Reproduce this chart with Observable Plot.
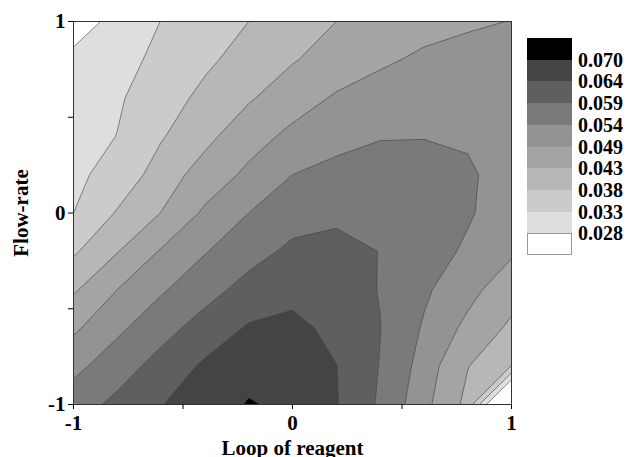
<!DOCTYPE html>
<html><head><meta charset="utf-8">
<script src="https://cdn.jsdelivr.net/npm/d3@7"></script>
<script src="https://cdn.jsdelivr.net/npm/@observablehq/plot@0.6"></script>
<style>
body{margin:0;background:#fff;}
#wrap{position:relative;width:629px;height:457px;overflow:hidden;background:#fff;}
#legend{position:absolute;left:527px;top:38px;font-family:"Liberation Serif",serif;font-weight:bold;font-size:20px;color:#000;}
.sw{position:absolute;left:0;width:45px;box-sizing:border-box;}
.lb{position:absolute;left:51px;line-height:20px;white-space:nowrap;}
</style></head><body><div id="wrap"><div id="legend"></div></div>
<script>
// Coded factor levels of the response grid
const loopLevels = [-1, -0.8, -0.6, -0.4, -0.2, 0, 0.2, 0.4, 0.6, 0.8, 1];
const flowLevels = [1, 0.8, 0.6, 0.4, 0.2, 0, -0.2, -0.4, -0.6, -0.8, -1];
// Response values (rows: flow-rate from 1 to -1; columns: loop from -1 to 1)
const response = [
  [0.0272, 0.0285, 0.0331, 0.0355, 0.0380, 0.0405, 0.0430, 0.0452, 0.0470, 0.0484, 0.0491],
  [0.0284, 0.0313, 0.0342, 0.0371, 0.0399, 0.0426, 0.0454, 0.0481, 0.0500, 0.0505, 0.0505],
  [0.0296, 0.0324, 0.0358, 0.0392, 0.0424, 0.0462, 0.0497, 0.0515, 0.0522, 0.0520, 0.0515],
  [0.0307, 0.0331, 0.0376, 0.0415, 0.0465, 0.0505, 0.0525, 0.0538, 0.0539, 0.0535, 0.0520],
  [0.0319, 0.0349, 0.0401, 0.0454, 0.0503, 0.0540, 0.0554, 0.0556, 0.0552, 0.0546, 0.0522],
  [0.0330, 0.0384, 0.0431, 0.0500, 0.0540, 0.0570, 0.0580, 0.0574, 0.0562, 0.0545, 0.0515],
  [0.0373, 0.0427, 0.0495, 0.0537, 0.0572, 0.0600, 0.0605, 0.0589, 0.0561, 0.0533, 0.0498],
  [0.0422, 0.0490, 0.0534, 0.0572, 0.0607, 0.0623, 0.0615, 0.0588, 0.0548, 0.0507, 0.0457],
  [0.0481, 0.0530, 0.0572, 0.0610, 0.0645, 0.0655, 0.0625, 0.0591, 0.0535, 0.0477, 0.0418],
  [0.0526, 0.0568, 0.0608, 0.0648, 0.0672, 0.0668, 0.0641, 0.0588, 0.0521, 0.0432, 0.0379],
  [0.0568, 0.0602, 0.0639, 0.0656, 0.0706, 0.0682, 0.0643, 0.0583, 0.0507, 0.0414, 0.0100]
];
const thresholds = [0.028, 0.033, 0.038, 0.043, 0.049, 0.054, 0.059, 0.064, 0.070];
const thresholdLabels = ["0.028", "0.033", "0.038", "0.043", "0.049", "0.054", "0.059", "0.064", "0.070"];
const bandColors = ["#ffffff", "#dedede", "#cbcbcb", "#b7b7b7", "#a4a4a4", "#939393", "#7a7a7a", "#5f5f5f", "#444444", "#000000"];
const axisTicks = [-1, -0.5, 0, 0.5, 1];
const labelledTicks = [-1, 0, 1];

// grid samples sit at cell centres, so the raster extent reaches half a step beyond the outer levels
const nx = loopLevels.length, ny = flowLevels.length;
const stepX = (loopLevels[nx - 1] - loopLevels[0]) / (nx - 1);
const stepY = (flowLevels[0] - flowLevels[ny - 1]) / (ny - 1);

const fmt = d => labelledTicks.includes(d) ? String(d) : "";

const chart = Plot.plot({
  width: 629, height: 457,
  marginLeft: 73, marginRight: 118, marginTop: 21, marginBottom: 53,
  style: {fontFamily: "'Liberation Serif', serif", fontWeight: "bold", fontSize: "21px", background: "#fff", color: "#000"},
  x: {domain: [loopLevels[0], loopLevels[nx - 1]]},
  y: {domain: [flowLevels[ny - 1], flowLevels[0]]},
  color: {type: "threshold", domain: thresholds, range: bandColors},
  marks: [
    Plot.contour(response.flat(), {
      width: nx, height: ny,
      x1: loopLevels[0] - stepX / 2, x2: loopLevels[nx - 1] + stepX / 2,
      y1: flowLevels[0] + stepY / 2, y2: flowLevels[ny - 1] - stepY / 2,
      fill: Plot.identity, thresholds, clip: "frame",
      stroke: "#404040", strokeWidth: 0.6}),
    Plot.frame({stroke: "#333", strokeWidth: 1}),
    Plot.axisX({ticks: axisTicks, tickSize: 5, tickPadding: 6, tickFormat: fmt,
      label: "Loop of reagent", labelAnchor: "center", labelArrow: "none", labelOffset: 50}),
    Plot.axisY({ticks: axisTicks, tickSize: 5, tickPadding: 3, tickFormat: fmt,
      label: "Flow-rate", labelAnchor: "center", labelArrow: "none", labelOffset: 60})
  ]
});
document.getElementById("wrap").prepend(chart);

// Legend built from the same thresholds and colours
const legend = document.getElementById("legend");
const boxH = 21.7;
for (let k = 0; k < bandColors.length; k++) {
  const c = bandColors[bandColors.length - 1 - k];
  const top = Math.round(k * boxH), bottom = Math.round((k + 1) * boxH);
  const d = document.createElement("div");
  d.className = "sw";
  d.style.top = top + "px";
  d.style.height = (bottom - top) + "px";
  d.style.background = c;
  if (c === "#ffffff") d.style.border = "1px solid #999";
  legend.appendChild(d);
}
for (let k = 0; k < thresholds.length; k++) {
  const l = document.createElement("div");
  l.className = "lb";
  l.textContent = thresholdLabels[thresholds.length - 1 - k];
  l.style.top = (Math.round((k + 1) * boxH) - 10) + "px";
  legend.appendChild(l);
}
</script>
</body></html>
